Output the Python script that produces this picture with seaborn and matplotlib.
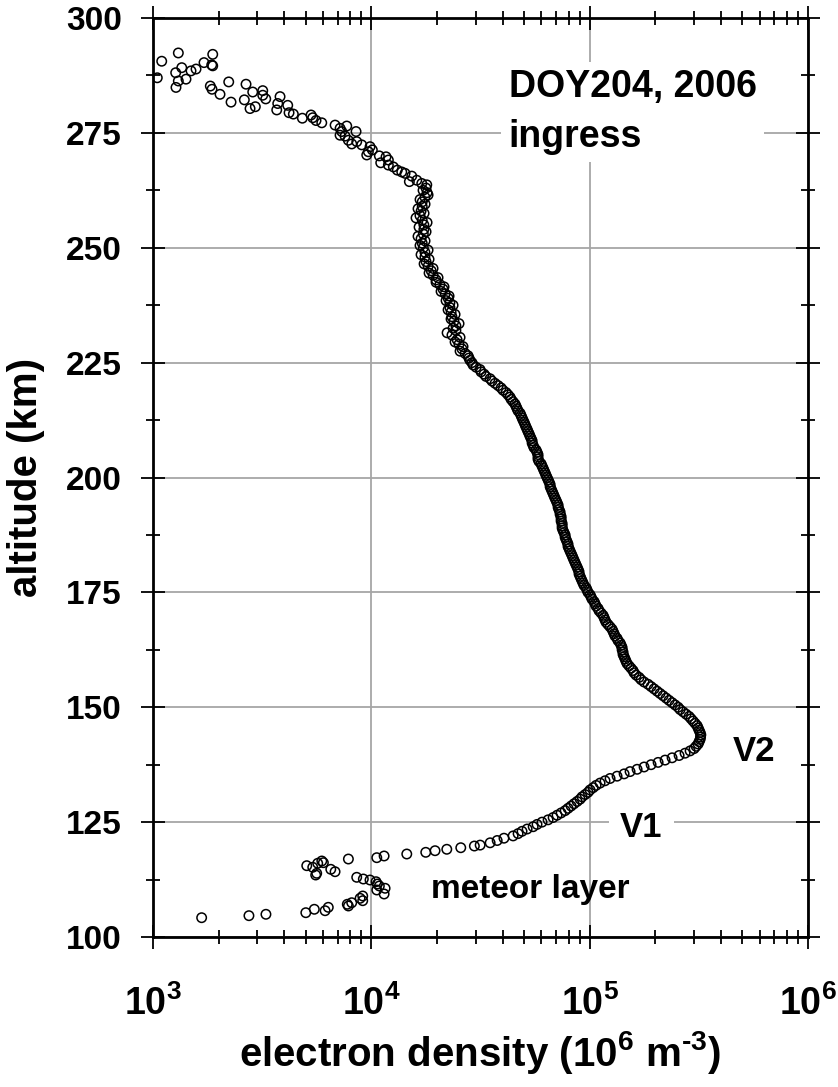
import numpy as np
import pandas as pd
import seaborn as sns
import matplotlib.pyplot as plt
from matplotlib.ticker import FixedLocator, LogLocator, MultipleLocator, NullFormatter

sns.set_style("ticks")
plt.rcParams["font.family"] = ["Liberation Sans", "DejaVu Sans"]
plt.rcParams["font.weight"] = "bold"
plt.rcParams["text.color"] = "black"
plt.rcParams["axes.labelcolor"] = "black"
plt.rcParams["xtick.color"] = "black"
plt.rcParams["ytick.color"] = "black"
plt.rcParams["mathtext.fontset"] = "custom"
plt.rcParams["mathtext.rm"] = "Liberation Sans:bold"
plt.rcParams["mathtext.bf"] = "Liberation Sans:bold"
plt.rcParams["mathtext.it"] = "Liberation Sans:bold"
plt.rcParams["mathtext.default"] = "rm"

# --- data (altitude km, electron density 1e6 m^-3) ---

# bottomside of the main layer, V1 up to the V2 peak
alt_bottomside = [117.26, 117.63, 118.06, 118.43, 118.78, 119.09, 119.43, 119.80,
                  120.0, 120.5, 121.0, 121.5, 122.0, 122.5, 123.0, 123.5, 124.0, 124.5,
                  125.0, 125.5, 126.0, 126.5, 127.0, 127.5, 128.0, 128.5, 129.0, 129.5,
                  130.0, 130.5, 131.0, 131.5, 132.0, 132.5, 133.0, 133.5, 134.0, 134.5,
                  135.0, 135.5, 136.0, 136.5, 137.0, 137.5, 138.0, 138.5, 139.0, 139.5,
                  140.0, 140.5, 141.0, 141.5, 142.0, 142.5, 143.0, 143.5, 144.0]
ne_bottomside = [1.059e4, 1.144e4, 1.453e4, 1.775e4, 1.958e4, 2.216e4, 2.568e4, 2.964e4,
                 3.15e4, 3.50e4, 3.77e4, 4.05e4, 4.46e4, 4.70e4, 4.90e4, 5.17e4, 5.51e4, 5.74e4,
                 6.05e4, 6.45e4, 6.80e4, 7.09e4, 7.40e4, 7.72e4, 7.96e4, 8.22e4, 8.48e4, 8.76e4,
                 9.04e4, 9.23e4, 9.53e4, 9.83e4, 1.004e5, 1.037e5, 1.070e5, 1.116e5, 1.176e5, 1.240e5,
                 1.335e5, 1.438e5, 1.531e5, 1.649e5, 1.775e5, 1.911e5, 2.058e5, 2.215e5, 2.385e5, 2.568e5,
                 2.735e5, 2.884e5, 3.008e5, 3.072e5, 3.138e5, 3.171e5, 3.205e5, 3.22e5, 3.23e5]

# topside just above the peak
alt_peak_top = [144.5, 145.0, 145.5, 146.0, 146.5, 147.0, 147.5, 148.0, 148.5, 149.0,
                149.5, 150.0, 150.5, 151.0, 151.5, 152.0, 152.5, 153.0, 153.5, 154.0,
                154.5, 155.0, 155.5, 156.0, 156.5, 157.0, 157.5, 158.0, 158.5, 159.0,
                159.5, 160.0]
ne_peak_top = [3.205e5, 3.171e5, 3.138e5, 3.105e5, 3.04e5, 2.977e5, 2.914e5, 2.853e5, 2.764e5, 2.679e5,
               2.596e5, 2.541e5, 2.462e5, 2.385e5, 2.31e5, 2.239e5, 2.169e5, 2.101e5, 2.036e5, 1.972e5,
               1.911e5, 1.851e5, 1.775e5, 1.72e5, 1.684e5, 1.632e5, 1.597e5, 1.58e5, 1.547e5, 1.515e5,
               1.484e5, 1.468e5]

# topside 160-216 km
alt_topside = [160.5, 161.0, 161.5, 162.0, 162.5, 163.0, 163.5, 164.0, 164.5, 165.0,
               165.5, 166.0, 166.5, 167.0, 167.5, 168.0, 168.5, 169.0, 169.5, 170.0,
               170.5, 171.0, 171.5, 172.0, 172.5, 173.0, 173.5, 174.0, 174.5, 175.0,
               175.5, 176.0, 176.5, 177.0, 177.5, 178.0, 178.5, 179.0, 179.5, 180.0,
               180.5, 181.0, 181.5, 182.0, 182.5, 183.0, 183.5, 184.0, 184.5, 185.0,
               185.5, 186.0, 186.5, 187.0, 187.5, 188.0, 188.5, 189.0, 189.5, 190.0,
               190.5, 191.0, 191.5, 192.0, 192.5, 193.0, 193.5, 194.0, 194.5, 195.0,
               195.5, 196.0, 196.5, 197.0, 197.5, 198.0, 198.5, 199.0, 199.5, 200.0,
               200.5, 201.0, 201.5, 202.0, 202.5, 203.0, 203.5, 204.0, 204.5, 205.0,
               205.5, 206.0, 206.5, 207.0, 207.5, 208.0, 208.5, 209.0, 209.5, 210.0,
               210.5, 211.0, 211.5, 212.0, 212.5, 213.0, 213.5, 214.0, 214.5, 215.0,
               215.5, 216.0]
ne_topside = [1.453e5, 1.438e5, 1.422e5, 1.422e5, 1.408e5, 1.408e5, 1.393e5, 1.378e5, 1.349e5, 1.335e5,
              1.307e5, 1.294e5, 1.280e5, 1.266e5, 1.240e5, 1.214e5, 1.189e5, 1.176e5, 1.164e5, 1.152e5,
              1.128e5, 1.104e5, 1.093e5, 1.070e5, 1.059e5, 1.048e5, 1.026e5, 1.015e5, 1.004e5, 9.83e4,
              9.73e4, 9.63e4, 9.43e4, 9.33e4, 9.23e4, 9.13e4, 9.04e4, 8.94e4, 8.94e4, 8.85e4,
              8.76e4, 8.66e4, 8.57e4, 8.48e4, 8.39e4, 8.31e4, 8.22e4, 8.13e4, 8.05e4, 7.96e4,
              7.96e4, 7.88e4, 7.80e4, 7.72e4, 7.72e4, 7.63e4, 7.55e4, 7.48e4, 7.48e4, 7.48e4,
              7.40e4, 7.40e4, 7.40e4, 7.32e4, 7.32e4, 7.24e4, 7.17e4, 7.17e4, 7.09e4, 7.02e4,
              6.94e4, 6.87e4, 6.80e4, 6.73e4, 6.66e4, 6.59e4, 6.59e4, 6.52e4, 6.45e4, 6.38e4,
              6.31e4, 6.25e4, 6.18e4, 6.12e4, 6.05e4, 5.99e4, 5.86e4, 5.80e4, 5.80e4, 5.80e4,
              5.74e4, 5.68e4, 5.56e4, 5.51e4, 5.45e4, 5.45e4, 5.39e4, 5.33e4, 5.28e4, 5.22e4,
              5.17e4, 5.11e4, 5.06e4, 5.01e4, 4.95e4, 4.90e4, 4.85e4, 4.80e4, 4.70e4, 4.65e4,
              4.60e4, 4.55e4]

# upper topside 216-263 km (noisier)
alt_upper = [216.5, 217.0, 217.5, 218.0, 218.5, 219.0, 219.5, 220.0, 220.5, 221.0,
             221.5, 222.0, 222.5, 223.0, 223.5, 224.0, 224.5, 225.0, 225.5, 226.0,
             226.5, 227.0, 227.5, 228.0, 228.5, 229.0, 229.5, 230.0, 230.5, 231.0,
             231.5, 232.0, 232.5, 233.0, 233.5, 234.0, 234.5, 235.0, 235.5, 236.0,
             236.5, 237.0, 237.5, 238.0, 238.5, 239.0, 239.5, 240.0, 240.5, 241.0,
             241.5, 242.0, 242.5, 243.0, 243.5, 244.0, 244.5, 245.0, 245.5, 246.0,
             246.5, 247.0, 247.5, 248.0, 248.5, 249.0, 249.5, 250.0, 250.5, 251.0,
             251.5, 252.0, 252.5, 253.0, 253.5, 254.0, 254.5, 255.0, 255.5, 256.0,
             256.5, 257.0, 257.5, 258.0, 258.5, 259.0, 259.5, 260.0, 260.5, 261.0,
             261.5, 262.0, 262.5, 263.0]
ne_upper = [4.458e4, 4.37e4, 4.319e4, 4.23e4, 4.14e4, 4.01e4, 3.929e4, 3.81e4, 3.687e4, 3.57e4,
            3.498e4, 3.35e4, 3.283e4, 3.18e4, 3.147e4, 3.02e4, 2.924e4, 2.89e4, 2.83e4, 2.80e4,
            2.773e4, 2.69e4, 2.549e4, 2.60e4, 2.630e4, 2.52e4, 2.418e4, 2.47e4, 2.549e4, 2.34e4,
            2.223e4, 2.44e4, 2.368e4, 2.44e4, 2.522e4, 2.39e4, 2.318e4, 2.34e4, 2.418e4, 2.32e4,
            2.246e4, 2.29e4, 2.368e4, 2.29e4, 2.199e4, 2.25e4, 2.270e4, 2.18e4, 2.086e4, 2.13e4,
            2.153e4, 2.06e4, 1.979e4, 1.98e4, 2.021e4, 1.92e4, 1.838e4, 1.88e4, 1.917e4, 1.82e4,
            1.744e4, 1.78e4, 1.838e4, 1.76e4, 1.689e4, 1.76e4, 1.819e4, 1.73e4, 1.671e4, 1.71e4,
            1.762e4, 1.69e4, 1.636e4, 1.73e4, 1.781e4, 1.74e4, 1.654e4, 1.74e4, 1.800e4, 1.71e4,
            1.602e4, 1.67e4, 1.744e4, 1.69e4, 1.636e4, 1.71e4, 1.762e4, 1.71e4, 1.671e4, 1.76e4,
            1.819e4, 1.80e4, 1.725e4, 1.78e4]

# scattered points above 263 km
alt_tail = [287.0, 290.6, 292.4, 288.1, 289.2, 286.3, 284.9, 286.7, 288.5, 288.9,
            290.3, 292.1, 289.8, 289.6, 285.2, 284.5, 283.4, 286.1, 281.7, 285.6,
            282.2, 280.3, 280.7, 283.9, 284.2, 283.2, 282.4, 282.9, 281.4, 280.0,
            281.0, 279.4, 279.1, 278.2, 278.9, 278.3, 277.7, 277.2, 276.7, 276.0,
            275.3, 276.5, 274.5, 274.3, 273.4, 275.3, 272.6, 273.1, 272.4, 272.0,
            270.9, 270.2, 271.3, 270.0, 268.5, 269.8, 269.1, 268.0, 267.6, 266.9,
            266.5, 266.2, 264.4, 265.6, 264.7, 264.0, 263.7]
ne_tail = [1046, 1096, 1306, 1270, 1354, 1306, 1274, 1416, 1493, 1574,
           1712, 1877, 1857, 1877, 1830, 1863, 2027, 2222, 2277, 2667,
           2620, 2782, 2942, 2862, 3181, 3181, 3283, 3818, 3726, 3687,
           4140, 4198, 4393, 4830, 5294, 5390, 5580, 5928, 6822, 7190,
           7320, 7716, 7190, 7580, 7846, 8510, 8134, 8574, 9036, 9863,
           9690, 9527, 10106, 10880, 11040, 11676, 11965, 11965, 12612, 13153,
           13780, 14268, 14930, 15311, 16144, 17019, 17944]

# meteor layer
alt_meteor = [116.97, 115.52, 115.17, 116.04, 116.54, 116.17, 113.49, 113.86, 114.73, 114.21,
              112.99, 112.62, 112.40, 112.03, 111.53, 111.10, 110.23, 110.60, 109.36, 108.92,
              108.42, 107.90, 107.46, 107.12, 106.75, 106.46, 105.72, 106.03, 105.29, 104.94,
              104.64, 104.20]
ne_meteor = [7.85e3, 5.06e3, 5.39e3, 5.68e3, 5.93e3, 6.03e3, 5.56e3, 5.62e3, 6.52e3, 6.82e3,
             8.57e3, 9.19e3, 9.86e3, 1.051e4, 1.065e4, 1.088e4, 1.059e4, 1.156e4, 1.144e4, 9.13e3,
             8.88e3, 9.13e3, 8.13e3, 7.76e3, 7.85e3, 6.35e3, 6.14e3, 5.48e3, 5.01e3, 3.29e3,
             2.75e3, 1.67e3]

x_ticks = [1e3, 1e4, 1e5, 1e6]
x_ticklabels = ["$10^{3}$", "$10^{4}$", "$10^{5}$", "$10^{6}$"]
y_ticks = [100, 125, 150, 175, 200, 225, 250, 275, 300]

profile = pd.DataFrame({
    "alt": alt_meteor + alt_bottomside + alt_peak_top + alt_topside + alt_upper + alt_tail,
    "ne": ne_meteor + ne_bottomside + ne_peak_top + ne_topside + ne_upper + ne_tail,
})

fig = plt.figure(figsize=(8.38, 10.87), dpi=100)
ax = fig.add_axes([0.1826, 0.138, 0.7816, 0.8454])
ax.set_xscale("log")

sns.scatterplot(data=profile, x="ne", y="alt", ax=ax, marker="o", s=46,
                facecolor="none", edgecolor="black", linewidth=1.1, legend=False, zorder=3)

ax.set_xlim(1e3, 1e6)
ax.set_ylim(100, 300)
ax.xaxis.set_major_locator(FixedLocator(x_ticks))
ax.set_xticklabels(x_ticklabels)
ax.xaxis.set_minor_locator(LogLocator(base=10, subs=np.arange(2, 10)))
ax.xaxis.set_minor_formatter(NullFormatter())
ax.yaxis.set_major_locator(FixedLocator(y_ticks))
ax.yaxis.set_minor_locator(MultipleLocator(12.5))

ax.grid(which="major", color="#a6a6a6", linewidth=1.3)
ax.set_axisbelow(True)
for sp in ax.spines.values():
    sp.set_linewidth(2.0)
    sp.set_color("black")

ax.tick_params(which="both", direction="inout", top=True, right=True, width=1.3, color="black")
ax.tick_params(which="major", length=17)
ax.tick_params(which="minor", length=10)
ax.tick_params(axis="y", which="major", labelsize=24, pad=14)
ax.tick_params(axis="x", which="major", labelsize=27, pad=26)

# short hyphen in the exponent, as in the original label
ax.set_xlabel("electron density (10$^{6}$ m$^{\u2010 3}$)", fontsize=29, fontweight="bold")
ax.set_ylabel("altitude (km)", fontsize=29, fontweight="bold")
ax.xaxis.set_label_coords(0.5, -0.100)
ax.xaxis.label.set_va("top")
ax.yaxis.set_label_coords(-0.165, 0.5)

# multi-line text with va="baseline" is anchored at the last line
ax.text(4.25e4, 271.9, "DOY204, 2006\ningress", fontsize=27, fontweight="bold",
        va="baseline", linespacing=1.5,
        bbox=dict(facecolor="white", edgecolor="none", pad=5))
ax.text(4.5e5, 138.4, "V2", fontsize=25, fontweight="bold", va="baseline")
ax.text(1.38e5, 121.8, "V1", fontsize=25, fontweight="bold", va="baseline",
        bbox=dict(facecolor="white", edgecolor="none", pad=8))
ax.text(1.87e4, 108.4, "meteor layer", fontsize=24, fontweight="bold", va="baseline")

fig.savefig("out.png", dpi=100)
